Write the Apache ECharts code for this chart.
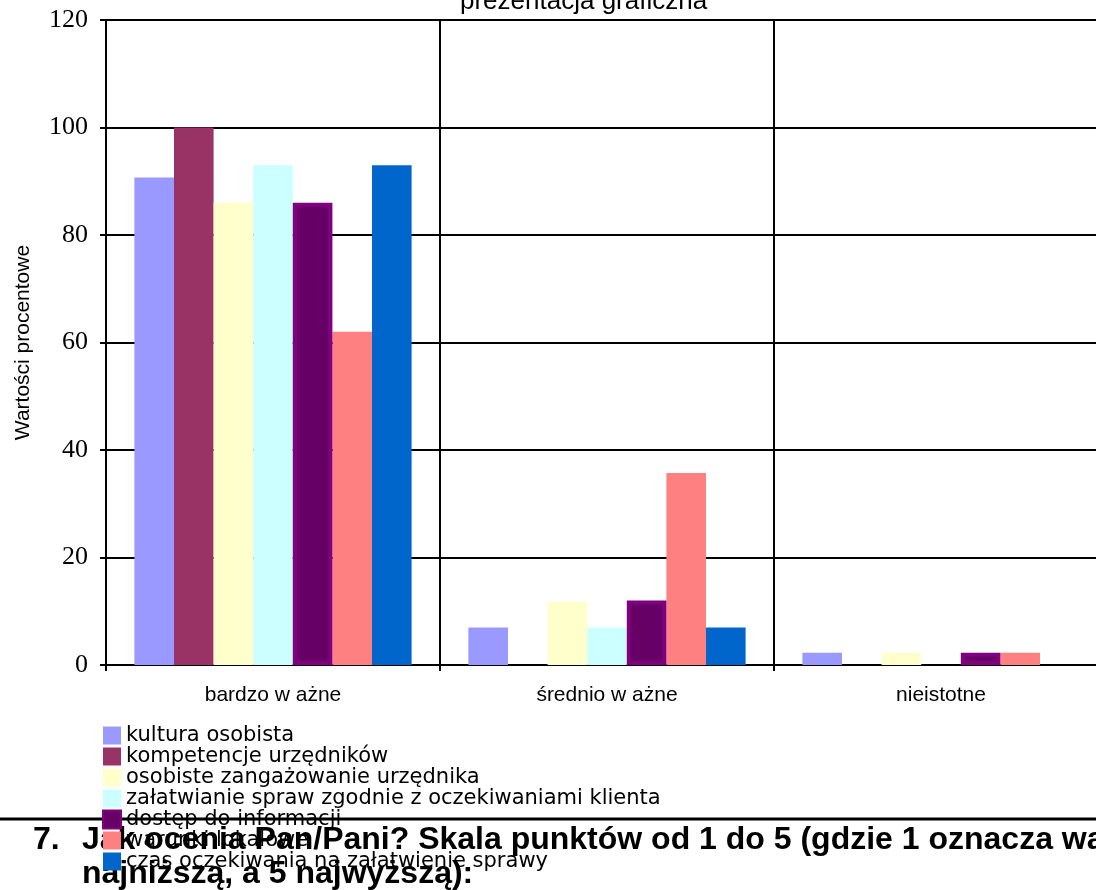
<!DOCTYPE html>
<html>
<head>
<meta charset="utf-8">
<script src="https://cdn.jsdelivr.net/npm/echarts@6/dist/echarts.min.js"></script>
<style>
  html, body { margin: 0; padding: 0; background: #fff; overflow: hidden; }
  /* the plot area continues a little past the right edge of the window */
  #chart { width: 1108px; height: 890px; }
</style>
</head>
<body>
<div id="chart"></div>
<script>
// Categories along the x axis
const categories = ['bardzo w ażne', 'średnio w ażne', 'nieistotne'];

// Percentage values per criterion (bardzo ważne, średnio ważne, nieistotne)
const kulturaOsobista = [90.7, 7.0, 2.3];
const kompetencjeUrzednikow = [100, 0, 0];
const zaangazowanieUrzednika = [86.0, 11.8, 2.3];
const zgodnieZOczekiwaniami = [93.0, 7.0, 0];
const dostepDoInformacji = [86.0, 12.0, 2.3];
const warunkiLokalowe = [62.0, 35.7, 2.3];
const czasOczekiwania = [93.0, 7.0, 0];

const seriesNames = [
  'kultura osobista',
  'kompetencje urzędników',
  'osobiste zangażowanie urzędnika',
  'załatwianie spraw zgodnie z oczekiwaniami klienta',
  'dostęp do informacji',
  'warunki lokalowe',
  'czas oczekiwania na załatwienie sprawy'
];
const seriesValues = [
  kulturaOsobista, kompetencjeUrzednikow, zaangazowanieUrzednika,
  zgodnieZOczekiwaniami, dostepDoInformacji, warunkiLokalowe, czasOczekiwania
];
const seriesColors = ['#9999FF', '#993366', '#FFFFCC', '#CCFFFF', '#660066', '#FF8080', '#0066CC'];

// Y axis scale
const yMin = 0, yMax = 120, yStep = 20;

const chart = echarts.init(document.getElementById('chart'), null, { renderer: 'canvas' });

const series = seriesNames.map((name, i) => {
  const s = {
    name: name,
    type: 'bar',
    data: seriesValues[i],
    barGap: '0%',
    barCategoryGap: '17%',
    itemStyle: { color: seriesColors[i] },
    emphasis: { disabled: true },
    z: 3
  };
  if (name === 'dostęp do informacji') {
    s.itemStyle = { color: seriesColors[i], borderColor: '#800080', borderWidth: 4 };
    s.z = 4;
  }
  return s;
});

const gridLine = { show: true, lineStyle: { color: '#000', width: 2 } };

chart.setOption({
  animation: false,
  backgroundColor: '#fff',
  title: {
    text: 'prezentacja graficzna',
    left: 455,
    top: -16,
    textStyle: { fontFamily: 'Arial, Liberation Sans', fontSize: 26, fontWeight: 'normal', color: '#000' }
  },
  grid: { left: 106, right: 0, top: 20, bottom: 225, containLabel: false },
  legend: {
    orient: 'vertical',
    left: 102,
    top: 725,
    height: 200,
    padding: 0,
    icon: 'rect',
    itemWidth: 18,
    itemHeight: 18,
    itemGap: 0,
    selectedMode: false,
    z: 10,
    textStyle: { fontFamily: 'DejaVu Sans', fontSize: 21, color: '#000' },
    data: seriesNames
  },
  xAxis: {
    type: 'category',
    data: categories,
    axisLine: { show: true, lineStyle: { color: '#000', width: 2 } },
    axisTick: { show: true, length: 6, lineStyle: { color: '#000', width: 2 } },
    splitLine: gridLine,
    axisLabel: { fontFamily: 'Arial, Liberation Sans', fontSize: 21, color: '#000', margin: 20 }
  },
  yAxis: {
    type: 'value',
    min: yMin,
    max: yMax,
    interval: yStep,
    name: 'Wartości procentowe',
    nameLocation: 'middle',
    nameGap: 72,
    nameTextStyle: { fontFamily: 'Arial, Liberation Sans', fontSize: 21, color: '#000' },
    axisLine: { show: true, lineStyle: { color: '#000', width: 2 } },
    axisTick: { show: true, length: 6, lineStyle: { color: '#000', width: 2 } },
    splitLine: gridLine,
    axisLabel: { fontFamily: 'Liberation Serif, Times New Roman', fontSize: 26, color: '#000', margin: 18 }
  },
  graphic: [
    {
      type: 'line', z: 1,
      shape: { x1: 0, y1: 819, x2: 1108, y2: 819 },
      style: { stroke: '#000', lineWidth: 3 }
    },
    {
      type: 'text', z: 1, left: 33, top: 824,
      style: { text: '7.', font: 'bold 32px Arial, Liberation Sans', fill: '#000' }
    },
    {
      type: 'text', z: 1, left: 82, top: 824,
      style: { text: 'Jak ocenia Pan/Pani? Skala punktów od 1 do 5 (gdzie 1 oznacza wartość', font: 'bold 32px Arial, Liberation Sans', fill: '#000' }
    },
    {
      type: 'text', z: 1, left: 82, top: 858,
      style: { text: 'najniższą, a 5 najwyższą):', font: 'bold 32px Arial, Liberation Sans', fill: '#000' }
    }
  ],
  series: series
});
</script>
</body>
</html>
